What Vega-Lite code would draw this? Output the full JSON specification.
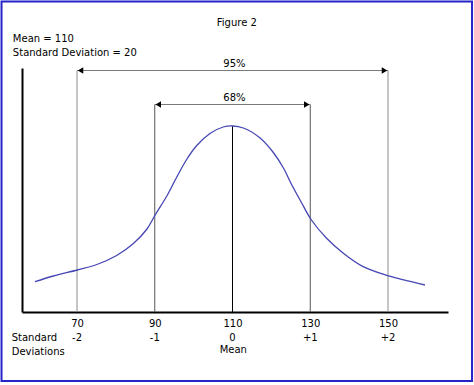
{
  "$schema": "https://vega.github.io/schema/vega-lite/v6.json",
  "width": 426,
  "height": 244,
  "autosize": {"type": "none"},
  "padding": {"left": 22, "top": 68, "right": 26, "bottom": 73},
  "background": "white",
  "config": {
    "view": {"stroke": null},
    "font": "DejaVu Sans",
    "text": {"font": "DejaVu Sans", "fontSize": 10, "color": "black"}
  },
  "datasets": {
    "frame": [{"x1": 50.58, "x2": 171.61, "y1": -69, "y2": 310.5}],
    "verticals": [
      {"x": 70, "base": 0, "top": 241.5, "kind": "95%"},
      {"x": 90, "base": 0, "top": 207.5, "kind": "68%"},
      {"x": 110, "base": 0, "top": 186, "kind": "Mean"},
      {"x": 130, "base": 0, "top": 207.5, "kind": "68%"},
      {"x": 150, "base": 0, "top": 241.5, "kind": "95%"}
    ],
    "arrows": [
      {"band": "95%", "x": 70, "x2": 150, "y": 241.5},
      {"band": "68%", "x": 90, "x2": 130, "y": 207.5}
    ],
    "bandLabels": [
      {"label": "95%", "x": 110.5, "y": 244.7},
      {"label": "68%", "x": 110.5, "y": 211}
    ],
    "curve": [
      {"x": 59.2, "y": 30.3}, {"x": 63.9, "y": 36}, {"x": 70.1, "y": 42},
      {"x": 75.1, "y": 47.5}, {"x": 80.2, "y": 56.5}, {"x": 84.5, "y": 68.5},
      {"x": 87.9, "y": 82.5}, {"x": 90.1, "y": 97}, {"x": 93.1, "y": 116},
      {"x": 95.6, "y": 134.5}, {"x": 98.2, "y": 152.5}, {"x": 100.8, "y": 166.5},
      {"x": 104.2, "y": 178.5}, {"x": 107.6, "y": 185}, {"x": 110, "y": 186},
      {"x": 112.8, "y": 184}, {"x": 117.1, "y": 174}, {"x": 120.5, "y": 159.5},
      {"x": 123.1, "y": 144}, {"x": 125.2, "y": 127.5}, {"x": 127.8, "y": 109},
      {"x": 130.3, "y": 92}, {"x": 134.2, "y": 73.7}, {"x": 138.5, "y": 58.7},
      {"x": 143.6, "y": 45.3}, {"x": 149.9, "y": 36.3}, {"x": 154.8, "y": 31.3},
      {"x": 159.5, "y": 27}
    ],
    "notes": [
      {"text": "Figure 2", "x": 111.1, "y": 286.5, "pos": "center"},
      {"text": "Mean = 110", "x": 53.5, "y": 270.3, "pos": "left"},
      {"text": "Standard Deviation = 20", "x": 53.5, "y": 256.5, "pos": "left"},
      {"text": "Standard", "x": 53.2, "y": -29, "pos": "left"},
      {"text": "Deviations", "x": 53.2, "y": -43, "pos": "left"}
    ],
    "sdLabels": [
      {"text": "-2", "x": 70, "y": -29},
      {"text": "-1", "x": 90, "y": -29},
      {"text": "0", "x": 110, "y": -29},
      {"text": "+1", "x": 130, "y": -29},
      {"text": "+2", "x": 150, "y": -29},
      {"text": "Mean", "x": 110.2, "y": -41.3}
    ]
  },
  "layer": [
    {
      "data": {"name": "frame"},
      "mark": {"type": "rect", "fillOpacity": 0, "stroke": "#2424c8", "strokeWidth": 2},
      "encoding": {
        "x": {
          "field": "x1", "type": "quantitative",
          "scale": {"domain": [55.85, 165.43], "nice": false, "zero": false},
          "axis": {
            "values": [70, 90, 110, 130, 150],
            "ticks": false, "tickSize": 0, "grid": false,
            "domainColor": "black", "domainWidth": 2,
            "labelFont": "DejaVu Sans", "labelFontSize": 10, "labelColor": "black",
            "labelBaseline": "alphabetic", "labelPadding": 14.7,
            "title": null
          }
        },
        "x2": {"field": "x2"},
        "y": {
          "field": "y1", "type": "quantitative",
          "scale": {"domain": [0, 244], "nice": false, "zero": false},
          "axis": {
            "labels": false, "ticks": false, "grid": false,
            "domainColor": "black", "domainWidth": 2, "title": null
          }
        },
        "y2": {"field": "y2"}
      }
    },
    {
      "data": {"name": "verticals"},
      "mark": {"type": "rule", "strokeWidth": 1},
      "encoding": {
        "x": {"field": "x", "type": "quantitative"},
        "y": {"field": "base", "type": "quantitative"},
        "y2": {"field": "top"},
        "color": {
          "field": "kind", "type": "nominal",
          "scale": {"domain": ["95%", "68%", "Mean"], "range": ["#8c8c8c", "#555555", "#000000"]},
          "legend": null
        }
      }
    },
    {
      "data": {"name": "arrows"},
      "mark": {"type": "rule", "strokeWidth": 1.2, "color": "#7a7a7a"},
      "encoding": {
        "x": {"field": "x", "type": "quantitative"},
        "x2": {"field": "x2"},
        "y": {"field": "y", "type": "quantitative"}
      }
    },
    {
      "data": {"name": "arrows"},
      "mark": {"type": "point", "shape": "triangle-left", "filled": true, "size": 40, "color": "black", "opacity": 1, "xOffset": 3.5},
      "encoding": {
        "x": {"field": "x", "type": "quantitative"},
        "y": {"field": "y", "type": "quantitative"}
      }
    },
    {
      "data": {"name": "arrows"},
      "mark": {"type": "point", "shape": "triangle-right", "filled": true, "size": 40, "color": "black", "opacity": 1, "xOffset": -3.5},
      "encoding": {
        "x": {"field": "x2", "type": "quantitative"},
        "y": {"field": "y", "type": "quantitative"}
      }
    },
    {
      "data": {"name": "curve"},
      "mark": {"type": "line", "color": "#4646b4", "strokeWidth": 1.3, "interpolate": "catmull-rom"},
      "encoding": {
        "x": {"field": "x", "type": "quantitative"},
        "y": {"field": "y", "type": "quantitative"}
      }
    },
    {
      "data": {"name": "bandLabels"},
      "mark": {"type": "text", "align": "center", "baseline": "alphabetic"},
      "encoding": {
        "x": {"field": "x", "type": "quantitative"},
        "y": {"field": "y", "type": "quantitative"},
        "text": {"field": "label"}
      }
    },
    {
      "data": {"name": "notes"},
      "transform": [{"filter": "datum.pos === 'left'"}],
      "mark": {"type": "text", "align": "left", "baseline": "alphabetic"},
      "encoding": {
        "x": {"field": "x", "type": "quantitative"},
        "y": {"field": "y", "type": "quantitative"},
        "text": {"field": "text"}
      }
    },
    {
      "data": {"name": "notes"},
      "transform": [{"filter": "datum.pos === 'center'"}],
      "mark": {"type": "text", "align": "center", "baseline": "alphabetic"},
      "encoding": {
        "x": {"field": "x", "type": "quantitative"},
        "y": {"field": "y", "type": "quantitative"},
        "text": {"field": "text"}
      }
    },
    {
      "data": {"name": "sdLabels"},
      "mark": {"type": "text", "align": "center", "baseline": "alphabetic"},
      "encoding": {
        "x": {"field": "x", "type": "quantitative"},
        "y": {"field": "y", "type": "quantitative"},
        "text": {"field": "text"}
      }
    }
  ]
}
